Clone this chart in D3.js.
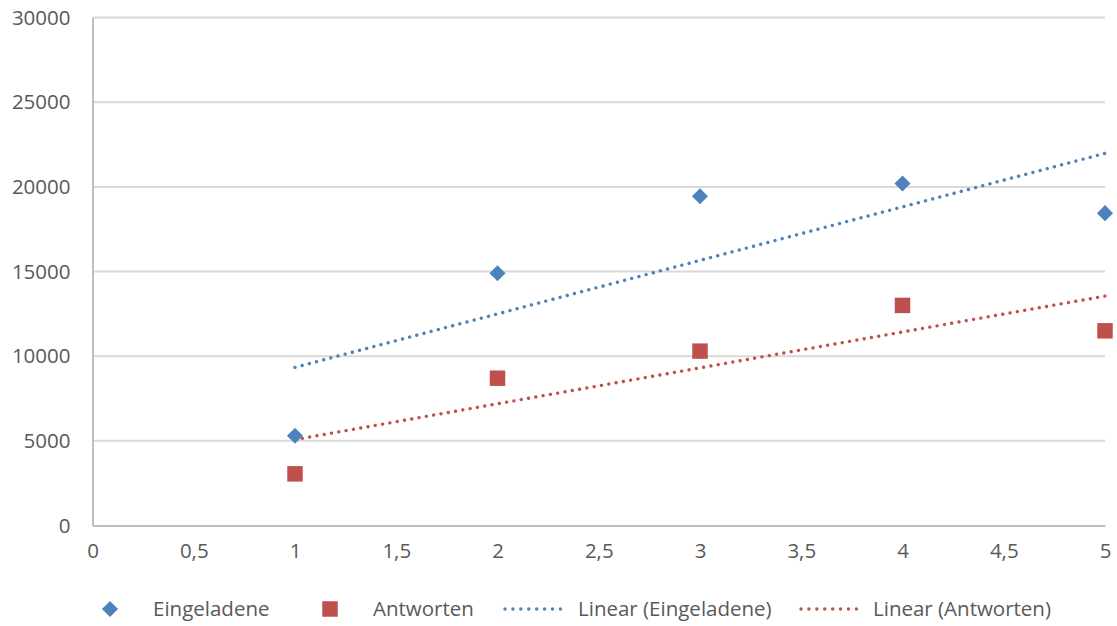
<!DOCTYPE html>
<html>
<head>
<meta charset="utf-8">
<script src="https://cdn.jsdelivr.net/npm/d3@7"></script>
<style>
  html, body { margin: 0; padding: 0; background: #fff; }
  svg text { font-family: "Open Sans", "Noto Sans", sans-serif; fill: #595959; }
</style>
</head>
<body>
<svg id="chart" width="1117" height="626"></svg>
<script>
// Jahr der Erhebung (x) und Teilnehmerzahlen
const xValues = [1, 2, 3, 4, 5];
const eingeladene = [5300, 14900, 19450, 20200, 18450];
const antworten = [3050, 8700, 10300, 13000, 11500];
const xTicks = [0, 0.5, 1, 1.5, 2, 2.5, 3, 3.5, 4, 4.5, 5];
const yTicks = [0, 5000, 10000, 15000, 20000, 25000, 30000];
const legendLabels = ["Eingeladene", "Antworten", "Linear (Eingeladene)", "Linear (Antworten)"];

const blue = "#4F81BD";
const red = "#C0504D";

const svg = d3.select("#chart");
const plotLeft = 92.5, plotRight = 1105, plotTop = 17.6, plotBottom = 525.5;

const x = d3.scaleLinear().domain([0, 5]).range([plotLeft, plotRight]);
const y = d3.scaleLinear().domain([0, 30000]).range([plotBottom, plotTop]);

const fmt = d => String(d).replace(".", ",");

// horizontal gridlines
svg.append("g")
  .selectAll("line")
  .data(yTicks.filter(t => t > 0))
  .join("line")
  .attr("x1", plotLeft).attr("x2", plotRight)
  .attr("y1", d => y(d)).attr("y2", d => y(d))
  .attr("stroke", "#d9d9d9").attr("stroke-width", 2);

// y axis
const yAxis = svg.append("g")
  .attr("transform", `translate(${plotLeft},0)`)
  .call(d3.axisLeft(y).tickValues(yTicks).tickSize(0).tickPadding(22).tickFormat(d => String(d)));
yAxis.select(".domain").attr("stroke", "#bfbfbf").attr("stroke-width", 2);
yAxis.selectAll("text").style("font-size", "20.5px").attr("fill", "#595959");

// x axis
const xAxis = svg.append("g")
  .attr("transform", `translate(0,${plotBottom})`)
  .call(d3.axisBottom(x).tickValues(xTicks).tickSize(0).tickPadding(18).tickFormat(fmt));
xAxis.select(".domain").attr("stroke", "#bfbfbf").attr("stroke-width", 2);
xAxis.selectAll("text").style("font-size", "20.5px").attr("fill", "#595959");

// least-squares trend line over the plotted x range
function linearFit(xs, ys) {
  const n = xs.length;
  const mx = d3.mean(xs), my = d3.mean(ys);
  let sxy = 0, sxx = 0;
  for (let i = 0; i < n; i++) { sxy += (xs[i] - mx) * (ys[i] - my); sxx += (xs[i] - mx) ** 2; }
  const b = sxy / sxx, a = my - b * mx;
  const x0 = d3.min(xs), x1 = d3.max(xs);
  return [[x0, a + b * x0], [x1, a + b * x1]];
}

const line = d3.line().x(d => x(d[0])).y(d => y(d[1]));

function trend(ys, color) {
  svg.append("path")
    .datum(linearFit(xValues, ys))
    .attr("d", line)
    .attr("fill", "none")
    .attr("stroke", color)
    .attr("stroke-width", 3.4)
    .attr("stroke-linecap", "round")
    .attr("stroke-dasharray", "0.01 7.4");
}
trend(eingeladene, blue);
trend(antworten, red);

// markers
const diamond = d3.symbol().type(d3.symbolDiamond2).size(165);
const square = d3.symbol().type(d3.symbolSquare).size(240);

svg.append("g").selectAll("path")
  .data(xValues.map((d, i) => [d, eingeladene[i]]))
  .join("path")
  .attr("d", diamond)
  .attr("transform", d => `translate(${x(d[0])},${y(d[1])})`)
  .attr("fill", blue);

svg.append("g").selectAll("path")
  .data(xValues.map((d, i) => [d, antworten[i]]))
  .join("path")
  .attr("d", square)
  .attr("transform", d => `translate(${x(d[0])},${y(d[1])})`)
  .attr("fill", red);

// legend
const ly = 609;
const lg = svg.append("g");
lg.append("path").attr("d", diamond).attr("transform", `translate(110,${ly})`).attr("fill", blue);
lg.append("path").attr("d", square).attr("transform", `translate(330,${ly})`).attr("fill", red);
lg.append("line").attr("x1", 505).attr("x2", 568).attr("y1", ly).attr("y2", ly)
  .attr("stroke", blue).attr("stroke-width", 3.4).attr("stroke-linecap", "round").attr("stroke-dasharray", "0.01 7.9");
lg.append("line").attr("x1", 801).attr("x2", 864).attr("y1", ly).attr("y2", ly)
  .attr("stroke", red).attr("stroke-width", 3.4).attr("stroke-linecap", "round").attr("stroke-dasharray", "0.01 7.9");
const textX = [153, 373, 578, 873];
lg.selectAll("text")
  .data(legendLabels)
  .join("text")
  .attr("x", (d, i) => textX[i])
  .attr("y", ly)
  .attr("dy", "0.35em")
  .style("font-size", "20.5px")
  .text(d => d);
</script>
</body>
</html>
